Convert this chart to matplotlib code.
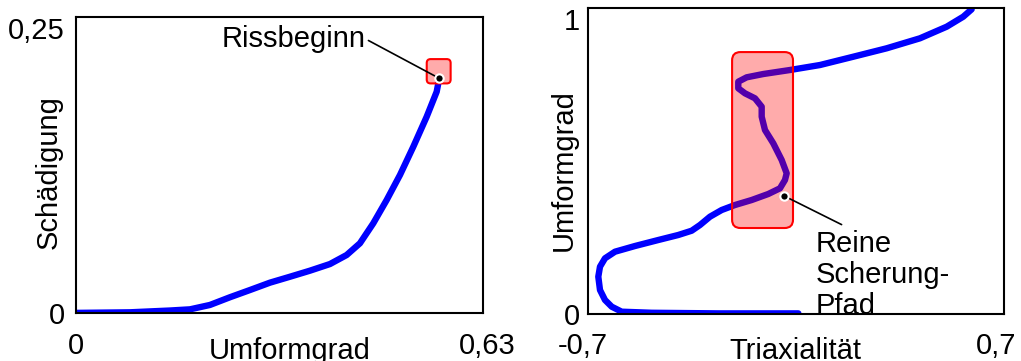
import matplotlib.pyplot as plt
from matplotlib.patches import FancyBboxPatch
from matplotlib.transforms import ScaledTranslation

plt.rcParams['font.family'] = ['Liberation Sans', 'DejaVu Sans']
plt.rcParams['font.size'] = 21

# left panel: Schädigung over Umformgrad
strain_l = [0.0, 0.0836, 0.1455, 0.1765, 0.2074, 0.2384, 0.2694, 0.3003, 0.3313, 0.3622,
            0.3932, 0.4190, 0.4396, 0.4602, 0.4810, 0.5016, 0.5222, 0.5429, 0.5584, 0.5624]
damage_l = [0.0005, 0.001, 0.0025, 0.0035, 0.0072, 0.0137, 0.0198, 0.0260, 0.0310, 0.0361,
            0.0417, 0.0493, 0.0592, 0.0760, 0.0957, 0.1168, 0.1406, 0.1659, 0.1870, 0.1983]
crack_pt = (0.5624, 0.1983)
crack_box = (0.543, 0.194, 0.037, 0.0205)  # x, y, w, h
crack_text = (0.337, 0.2247)

# right panel: Umformgrad over Triaxialität
triax_r = [0.008, -0.2615, -0.4856, -0.5866, -0.6202, -0.6428, -0.6596, -0.6653, -0.6596,
           -0.6428, -0.6091, -0.5418, -0.4634, -0.3961, -0.3510, -0.3231, -0.2894, -0.2500,
           -0.2053, -0.1491, -0.0932, -0.0538, -0.0370, -0.0313, -0.0481, -0.0764, -0.1043,
           -0.1154, -0.1154, -0.1380, -0.1716, -0.1942, -0.1942, -0.1659, -0.1100, -0.0202,
           0.0808, 0.1928, 0.3052, 0.4173, 0.5072, 0.5630, 0.5913]
strain_r = [0.002, 0.002, 0.004, 0.0075, 0.0239, 0.0458, 0.0784, 0.1219, 0.1546,
            0.1820, 0.2036, 0.2222, 0.2418, 0.2582, 0.2722, 0.2908, 0.3180, 0.3399,
            0.3562, 0.3725, 0.3922, 0.4108, 0.4379, 0.4598, 0.5033, 0.5578, 0.6013,
            0.6448, 0.6775, 0.7049, 0.7212, 0.7376, 0.7592, 0.7735, 0.7843, 0.7974,
            0.8137, 0.8408, 0.8683, 0.9010, 0.9389, 0.9716, 0.9958]
shear_pt = (-0.0394, 0.3856)
shear_box = (-0.215, 0.281, 0.205, 0.575)
shear_text = (0.067, 0.275)

blue = '#0000ff'
box_face = (1, 0, 0, 0.33)

fig = plt.figure(figsize=(10.21, 3.61), dpi=100)
ax1 = fig.add_axes([0.0744, 0.1316, 0.3986, 0.8213])
ax2 = fig.add_axes([0.5759, 0.1302, 0.4074, 0.8476])


def shift_label(lbl, dx_px):
    lbl.set_transform(lbl.get_transform() + ScaledTranslation(dx_px / 100, 0, fig.dpi_scale_trans))


# left
ax1.plot(strain_l, damage_l, color=blue, lw=4.6, solid_capstyle='round',
         solid_joinstyle='round', zorder=2)
bx, by, bw, bh = crack_box
ax1.add_patch(FancyBboxPatch((bx, by), bw, bh, boxstyle='round,pad=0,rounding_size=0.006',
                             mutation_aspect=0.546, facecolor=box_face, edgecolor='red',
                             lw=1.5, zorder=3))
ax1.plot(*crack_pt, 'o', color='black', ms=6, mec='white', mew=1.5, zorder=5)
ax1.annotate('Rissbeginn', xy=crack_pt, xytext=crack_text, ha='center', va='baseline',
             arrowprops=dict(arrowstyle='-', color='black', lw=1.2, relpos=(1, 0.5),
                             shrinkA=0, shrinkB=0), zorder=4)
ax1.set_xlim(0, 0.63)
ax1.set_ylim(0, 0.25)
ax1.set_xticks([0, 0.63], ['0', '0,63'])
ax1.set_yticks([0, 0.25], ['0', '0,25'])
ax1.tick_params(axis='x', length=0, pad=13)
ax1.tick_params(axis='y', length=0, pad=8)
ax1.get_yticklabels()[-1].set_va('top')
shift_label(ax1.get_xticklabels()[-1], 4)
ax1.set_xlabel('Umformgrad')
ax1.xaxis.set_label_coords(0.526, -0.079)
ax1.set_ylabel('Schädigung')
ax1.yaxis.set_label_coords(-0.032, 0.477)

# right
ax2.plot(triax_r, strain_r, color=blue, lw=4.6, solid_capstyle='round',
         solid_joinstyle='round', zorder=2)
bx, by, bw, bh = shear_box
ax2.add_patch(FancyBboxPatch((bx, by), bw, bh, boxstyle='round,pad=0,rounding_size=0.028',
                             mutation_aspect=0.97, facecolor=box_face, edgecolor='red',
                             lw=1.5, zorder=3))
ax2.plot(*shear_pt, 'o', color='black', ms=6, mec='white', mew=1.5, zorder=5)
ax2.annotate('Reine\nScherung-\nPfad', xy=shear_pt, xytext=shear_text, ha='left', va='top',
             linespacing=1.15,
             arrowprops=dict(arrowstyle='-', color='black', lw=1.2, relpos=(0.27, 1.0),
                             shrinkA=4, shrinkB=0), zorder=4)
ax2.set_xlim(-0.7, 0.7)
ax2.set_ylim(0, 1)
ax2.set_xticks([-0.7, 0.7], ['-0,7', '0,7'])
ax2.set_yticks([0, 1], ['0', '1'])
ax2.tick_params(axis='x', length=0, pad=13)
ax2.tick_params(axis='y', length=0, pad=6)
ax2.get_yticklabels()[-1].set_va('top')
shift_label(ax2.get_xticklabels()[0], -5)
shift_label(ax2.get_xticklabels()[-1], -8)
ax2.set_xlabel('Triaxialität')
ax2.xaxis.set_label_coords(0.498, -0.075)
ax2.set_ylabel('Umformgrad')
ax2.yaxis.set_label_coords(-0.024, 0.47)

for ax in (ax1, ax2):
    for s in ax.spines.values():
        s.set_linewidth(1.5)

fig.savefig('out.png', dpi=100)
